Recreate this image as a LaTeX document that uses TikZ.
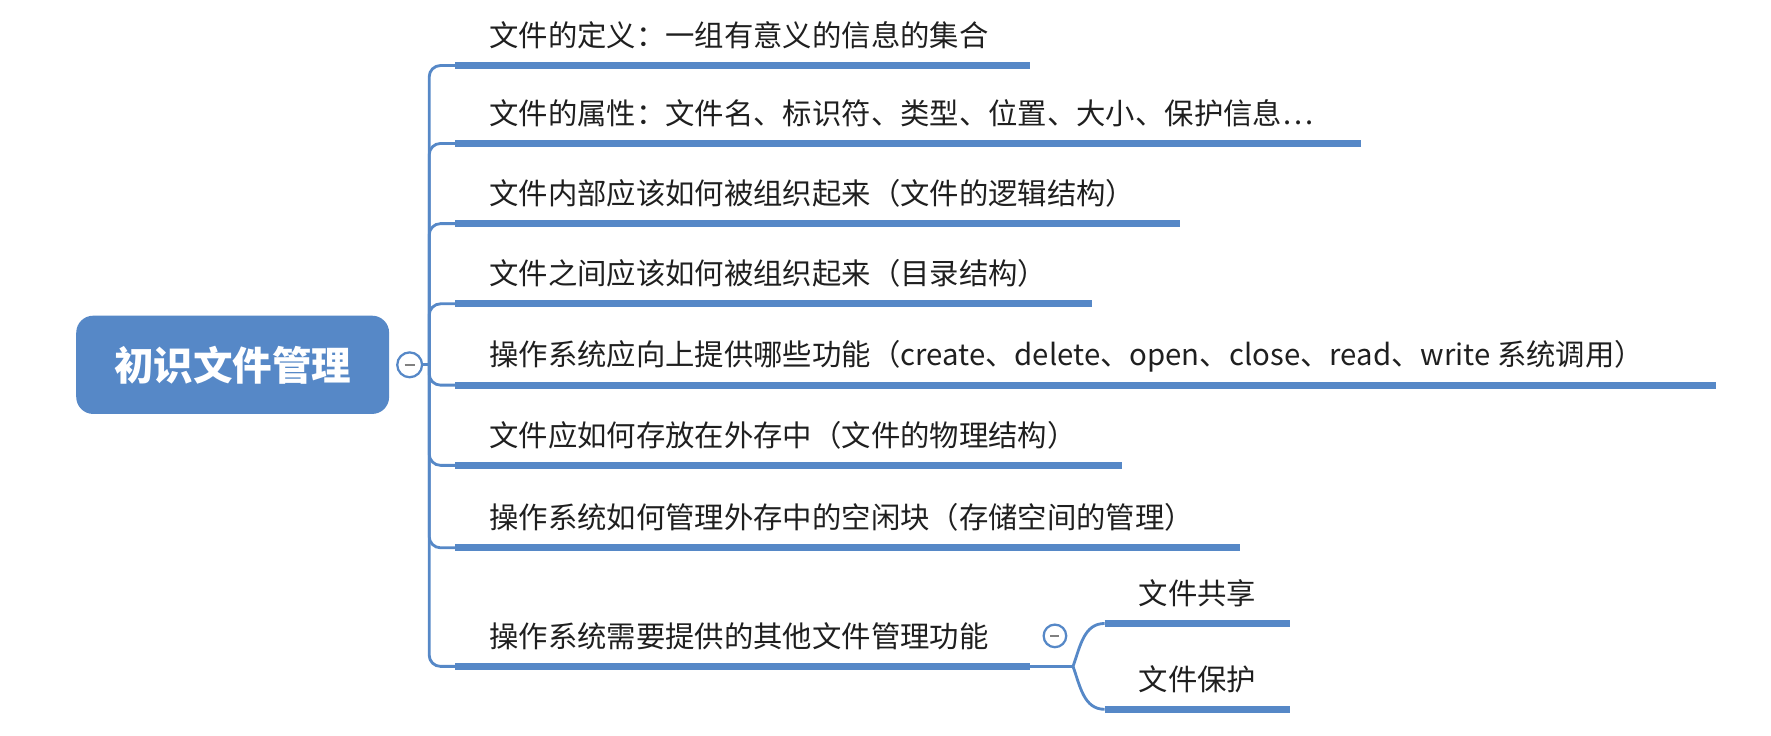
\documentclass[tikz,border=0pt]{standalone}
\usepackage{fontspec}
\setmainfont{Noto Sans CJK SC}
\usetikzlibrary{positioning}
\definecolor{mapblue}{RGB}{86,136,199}

\begin{document}
\begin{tikzpicture}[x=1pt, y=-1pt,
    rootnode/.style={rounded corners=15pt, fill=mapblue, text=white, font=\fontsize{35}{40}\selectfont\bfseries, minimum width=277pt, minimum height=87pt},
    leafnode/.style={anchor=base west, inner sep=0pt, text=black!88, font=\fontsize{26}{30}\selectfont},
    foldnode/.style={circle, draw=mapblue, line width=2pt, fill=white, minimum size=22pt, inner sep=0pt},
    bar/.style={draw=mapblue, line width=6pt},
    twig/.style={draw=mapblue, line width=2.5pt}]
    \useasboundingbox (0,0) rectangle (1568,651);

    \node[rootnode]    (wenjian)     at (206,323) {初识文件管理};
    \node[foldnode]    (zhedie)      [right=6pt of wenjian] {\color{gray}\rule{9pt}{1.5pt}};
    \coordinate        (gan)         at (380,323);

    % branches
    \coordinate (dingyi-a)    at (403,58);   \coordinate (dingyi-b)    at (912,58);
    \coordinate (shuxing-a)   at (403,127);  \coordinate (shuxing-b)   at (1205,127);
    \coordinate (luoji-a)     at (403,198);  \coordinate (luoji-b)     at (1045,198);
    \coordinate (mulu-a)      at (403,269);  \coordinate (mulu-b)      at (967,269);
    \coordinate (gongneng-a)  at (403,341);  \coordinate (gongneng-b)  at (1519,341);
    \coordinate (wuli-a)      at (403,412);  \coordinate (wuli-b)      at (993,412);
    \coordinate (kongxian-a)  at (403,485);  \coordinate (kongxian-b)  at (1098,485);
    \coordinate (qita-a)      at (403,590);  \coordinate (qita-b)      at (912,590);

    \node[leafnode] (dingyi)   at (433,41)  {文件的定义：一组有意义的信息的集合};
    \node[leafnode] (shuxing)  at (433,110) {文件的属性：文件名、标识符、类型、位置、大小、保护信息…};
    \node[leafnode] (luoji)    at (433,181) {文件内部应该如何被组织起来（文件的逻辑结构）};
    \node[leafnode] (mulu)     at (433,252) {文件之间应该如何被组织起来（目录结构）};
    \node[leafnode] (gongneng) at (433,324) {操作系统应向上提供哪些功能（create、delete、open、close、read、write 系统调用）};
    \node[leafnode] (wuli)     at (433,395) {文件应如何存放在外存中（文件的物理结构）};
    \node[leafnode] (kongxian) at (433,468) {操作系统如何管理外存中的空闲块（存储空间的管理）};
    \node[leafnode] (qita)     at (433,573) {操作系统需要提供的其他文件管理功能};

    \draw[twig] (zhedie) -- (gan);
    \draw[twig, rounded corners=10pt] (gan) |- (dingyi-a);
    \draw[twig, rounded corners=10pt] (gan) |- (shuxing-a);
    \draw[twig, rounded corners=10pt] (gan) |- (luoji-a);
    \draw[twig, rounded corners=10pt] (gan) |- (mulu-a);
    \draw[twig, rounded corners=10pt] (gan) |- (gongneng-a);
    \draw[twig, rounded corners=10pt] (gan) |- (wuli-a);
    \draw[twig, rounded corners=10pt] (gan) |- (kongxian-a);
    \draw[twig, rounded corners=10pt] (gan) |- (qita-a);

    \draw[bar] (dingyi-a) -- (dingyi-b);
    \draw[bar] (shuxing-a) -- (shuxing-b);
    \draw[bar] (luoji-a) -- (luoji-b);
    \draw[bar] (mulu-a) -- (mulu-b);
    \draw[bar] (gongneng-a) -- (gongneng-b);
    \draw[bar] (wuli-a) -- (wuli-b);
    \draw[bar] (kongxian-a) -- (kongxian-b);
    \draw[bar] (qita-a) -- (qita-b);

    % sub branches
    \node[foldnode, minimum size=20pt] (zhedie2) at (934,563) {\color{gray}\rule{8pt}{1.5pt}};
    \coordinate (fencha)        at (950,590);
    \coordinate (gongxiang-a)   at (978,552);  \coordinate (gongxiang-b)  at (1142,552);
    \coordinate (baohu-a)       at (978,628);  \coordinate (baohu-b)      at (1142,628);
    \node[leafnode] (gongxiang) at (1008,535) {文件共享};
    \node[leafnode] (baohu)     at (1008,611) {文件保护};

    \draw[twig] (qita-b) -- (fencha);
    \draw[twig] (fencha) to[out=70, in=180] (gongxiang-a);
    \draw[twig] (fencha) to[out=-70, in=180] (baohu-a);
    \draw[bar] (gongxiang-a) -- (gongxiang-b);
    \draw[bar] (baohu-a) -- (baohu-b);
\end{tikzpicture}
\end{document}
